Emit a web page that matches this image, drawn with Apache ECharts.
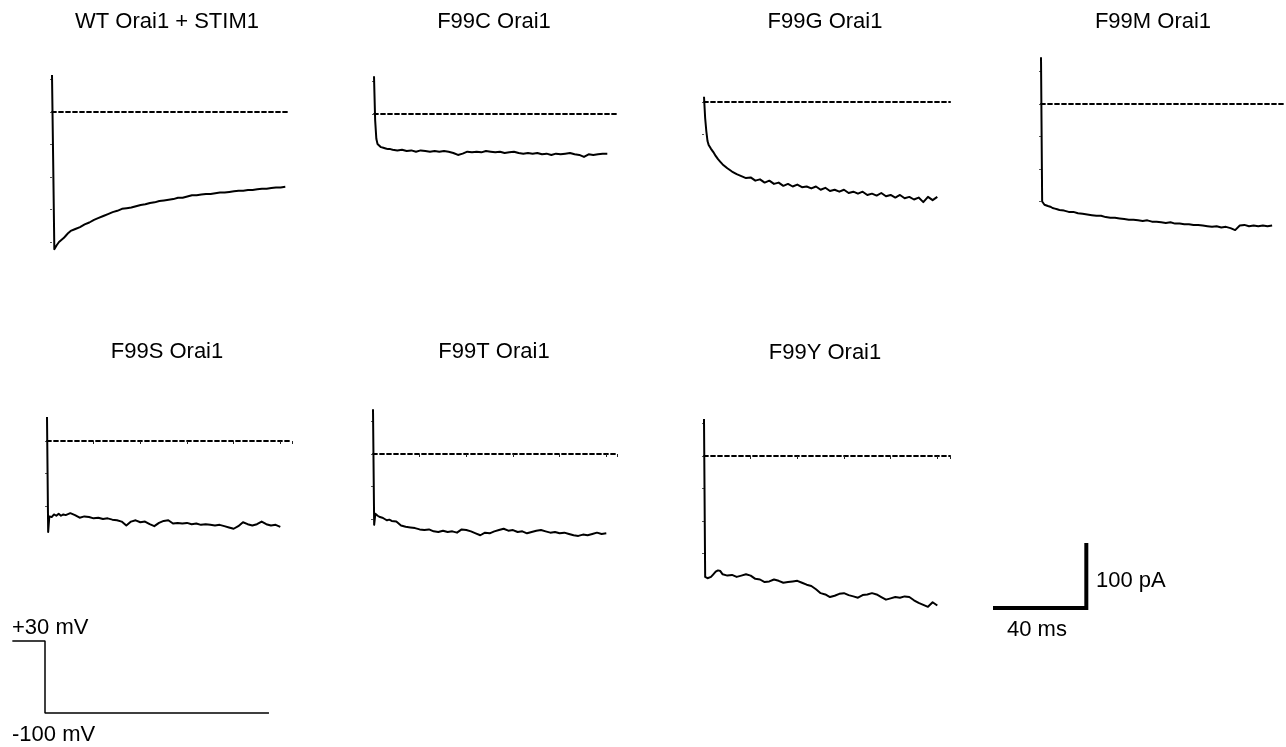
<!DOCTYPE html>
<html>
<head>
<meta charset="utf-8">
<title>Orai1 F99 mutant currents</title>
<script src="https://cdn.jsdelivr.net/npm/echarts@6/dist/echarts.min.js"></script>
<style>
  html, body { margin: 0; padding: 0; background: #fff; }
  #chart { width: 1286px; height: 747px; }
</style>
</head>
<body>
<div id="chart"></div>
<script>
// sample times (ms) shared by all current traces
const times = [0, 0.5, 1, 1.5, 2, 3, 4, 5, 6, 7, 8,
  10, 12, 14, 16, 18, 20, 22, 24, 26, 28,
  30, 32, 34, 36, 38, 40, 42, 44, 46, 48,
  50, 52, 54, 56, 58, 60, 62, 64, 66, 68,
  70, 72, 74, 76, 78, 80, 82, 84, 86, 88,
  90, 92, 94, 96, 98, 100]

// currents (pA)
const wtStim1 = [57, -74, -211, -208, -205, -200, -197, -194, -190, -186, -183,
  -180, -177, -173, -170, -166, -163, -160, -157, -154, -152,
  -149, -148, -147, -145, -143, -142, -140, -139, -137, -136,
  -135, -134, -132, -132, -130, -128, -128, -127, -126, -126,
  -125, -124, -124, -123, -122, -121, -121, -120, -120, -119,
  -118, -118, -117, -116, -116, -115]
const f99c = [58, -10, -38, -46, -49, -51, -52, -53, -54, -54, -55,
  -56, -55, -57, -56, -58, -56, -57, -58, -57, -58,
  -57, -58, -60, -63, -61, -58, -59, -58, -59, -57,
  -58, -59, -58, -60, -59, -58, -60, -61, -60, -61,
  -60, -62, -61, -63, -61, -62, -61, -60, -62, -63,
  -66, -62, -63, -62, -61, -61]
const f99g = [8, -25, -45, -60, -66, -72, -77, -83, -88, -92, -96,
  -102, -107, -111, -114, -117, -116, -121, -119, -124, -121,
  -126, -124, -129, -126, -130, -127, -131, -130, -133, -130,
  -135, -132, -137, -135, -138, -135, -140, -138, -141, -138,
  -143, -141, -144, -140, -145, -143, -147, -143, -148, -146,
  -150, -147, -154, -146, -151, -146]
const f99m = [72, -150, -153, -155, -156, -157, -158, -160, -161, -162, -163,
  -164, -166, -166, -168, -169, -170, -171, -172, -172, -174,
  -175, -175, -176, -177, -178, -178, -179, -180, -179, -181,
  -181, -182, -183, -182, -184, -184, -185, -185, -186, -186,
  -187, -188, -189, -188, -190, -189, -191, -194, -187, -186,
  -188, -187, -188, -187, -188, -187]
const f99s = [37, -140, -116, -114, -117, -113, -115, -112, -115, -113, -114,
  -111, -114, -118, -116, -117, -119, -118, -120, -119, -121,
  -122, -124, -130, -124, -122, -125, -124, -128, -131, -126,
  -123, -122, -127, -126, -127, -126, -128, -127, -129, -128,
  -129, -130, -129, -131, -133, -135, -131, -125, -128, -130,
  -128, -124, -128, -130, -129, -132]
const f99t = [69, -109, -92, -94, -95, -97, -98, -100, -102, -101, -103,
  -104, -110, -112, -113, -114, -116, -117, -116, -119, -120,
  -118, -120, -119, -121, -116, -117, -119, -122, -125, -121,
  -122, -119, -117, -115, -118, -117, -120, -119, -122, -120,
  -118, -117, -119, -121, -120, -122, -121, -123, -125, -126,
  -124, -125, -123, -121, -123, -122]
const f99y = [57, -186, -187, -188, -189, -186, -182, -178, -176, -177, -182,
  -184, -183, -186, -184, -182, -184, -189, -190, -194, -193,
  -190, -192, -195, -194, -193, -192, -195, -198, -200, -205,
  -211, -213, -217, -215, -212, -211, -214, -216, -218, -214,
  -213, -211, -213, -217, -221, -219, -217, -218, -216, -217,
  -222, -226, -229, -232, -225, -230]

const traceNames = ['WT Orai1 + STIM1', 'F99C Orai1', 'F99G Orai1', 'F99M Orai1',
  'F99S Orai1', 'F99T Orai1', 'F99Y Orai1']
const traceValues = [wtStim1, f99c, f99g, f99m, f99s, f99t, f99y]
// where the dashed zero-current line stops (ms)
const baselineEnds = [101, 104, 105.5, 106, 105, 104.5, 105.5]

// voltage protocol (ms, mV)
const protocolTimes = [-14, 0, 0, 96]
const protocolVolts = [30, 30, -100, -100]

// scale bar (ms, pA)
const scaleTimes = [0, 40, 40]
const scaleCurrents = [0, 0, 100]

// ---- layout ----
const PX_PER_MS = 2.333
const PX_PER_PA = 0.65
const PX_PER_MV = 72 / 130
const FONT = '22px "Liberation Sans", Arial, sans-serif'

// left = px of t=0, zero = px of 0 pA, yMin/yMax only span the fast transient (for the ticks)
const panels = [
  { left: 52, zero: 112, yMin: -200, yMax: 50, xTicks: false, tx: 167, ty: 22 },
  { left: 374, zero: 114, yMin: 0, yMax: 50, xTicks: false, tx: 494, ty: 22 },
  { left: 704, zero: 102, yMin: -50, yMax: 0, xTicks: false, tx: 825, ty: 22 },
  { left: 1041, zero: 104, yMin: -150, yMax: 50, xTicks: false, tx: 1153, ty: 22 },
  { left: 47, zero: 441, yMin: -100, yMax: 0, xTicks: true, tx: 167, ty: 352 },
  { left: 373, zero: 454, yMin: -100, yMax: 50, xTicks: true, tx: 494, ty: 352 },
  { left: 704, zero: 456, yMin: -150, yMax: 50, xTicks: true, tx: 825, ty: 353 }
]

const grid = []
const xAxis = []
const yAxis = []
const series = []
const graphic = []

const hiddenAxis = (min, max) => ({
  type: 'value', min, max, show: false
})

panels.forEach((p, i) => {
  grid.push({
    left: p.left,
    top: p.zero - p.yMax * PX_PER_PA,
    width: baselineEnds[i] * PX_PER_MS,
    height: (p.yMax - p.yMin) * PX_PER_PA
  })
  xAxis.push({
    type: 'value',
    gridIndex: i,
    min: 0,
    max: baselineEnds[i],
    interval: 20,
    axisLine: {
      onZero: true,
      lineStyle: { color: '#000', width: 1.8, type: [4, 3] }
    },
    axisTick: { show: p.xTicks, length: 3, lineStyle: { color: '#222', width: 1 } },
    axisLabel: { show: false },
    splitLine: { show: false }
  })
  yAxis.push({
    type: 'value',
    gridIndex: i,
    min: p.yMin,
    max: p.yMax,
    interval: 50,
    axisLine: { show: false },
    axisTick: { show: true, length: 2, lineStyle: { color: '#555', width: 1 } },
    axisLabel: { show: false },
    splitLine: { show: false }
  })
  series.push({
    name: traceNames[i],
    type: 'line',
    xAxisIndex: i,
    yAxisIndex: i,
    data: times.map((t, j) => [t, traceValues[i][j]]),
    showSymbol: false,
    symbol: 'none',
    clip: false,
    lineStyle: { color: '#000', width: 2, join: 'round' }
  })
  graphic.push({
    type: 'text',
    x: p.tx,
    y: p.ty,
    style: {
      text: traceNames[i],
      font: FONT,
      fill: '#000',
      align: 'center',
      verticalAlign: 'middle'
    }
  })
})

// voltage protocol
grid.push({
  left: 45 - 14 * PX_PER_MS,
  top: 641,
  width: 110 * PX_PER_MS,
  height: 130 * PX_PER_MV
})
xAxis.push({ ...hiddenAxis(-14, 96), gridIndex: panels.length })
yAxis.push({ ...hiddenAxis(-100, 30), gridIndex: panels.length })
series.push({
  name: 'protocol',
  type: 'line',
  xAxisIndex: panels.length,
  yAxisIndex: panels.length,
  data: protocolTimes.map((t, j) => [t, protocolVolts[j]]),
  showSymbol: false,
  symbol: 'none',
  clip: false,
  lineStyle: { color: '#000', width: 1.5 }
})

// scale bar
grid.push({
  left: 993,
  top: 608 - 100 * PX_PER_PA,
  width: 40 * PX_PER_MS,
  height: 100 * PX_PER_PA
})
xAxis.push({ ...hiddenAxis(0, 40), gridIndex: panels.length + 1 })
yAxis.push({ ...hiddenAxis(0, 100), gridIndex: panels.length + 1 })
series.push({
  name: 'scale',
  type: 'line',
  xAxisIndex: panels.length + 1,
  yAxisIndex: panels.length + 1,
  data: scaleTimes.map((t, j) => [t, scaleCurrents[j]]),
  showSymbol: false,
  symbol: 'none',
  clip: false,
  lineStyle: { color: '#000', width: 4, cap: 'butt', join: 'miter' }
})

const labels = [
  { text: '+30 mV', x: 12, y: 628 },
  { text: '-100 mV', x: 12, y: 735 },
  { text: '100 pA', x: 1096, y: 581 },
  { text: '40 ms', x: 1007, y: 630 }
]
labels.forEach(l => {
  graphic.push({
    type: 'text',
    x: l.x,
    y: l.y,
    style: { text: l.text, font: FONT, fill: '#000', align: 'left', verticalAlign: 'middle' }
  })
})

const chart = echarts.init(document.getElementById('chart'))
chart.setOption({
  backgroundColor: '#fff',
  animation: false,
  grid,
  xAxis,
  yAxis,
  series,
  graphic
})
</script>
</body>
</html>
